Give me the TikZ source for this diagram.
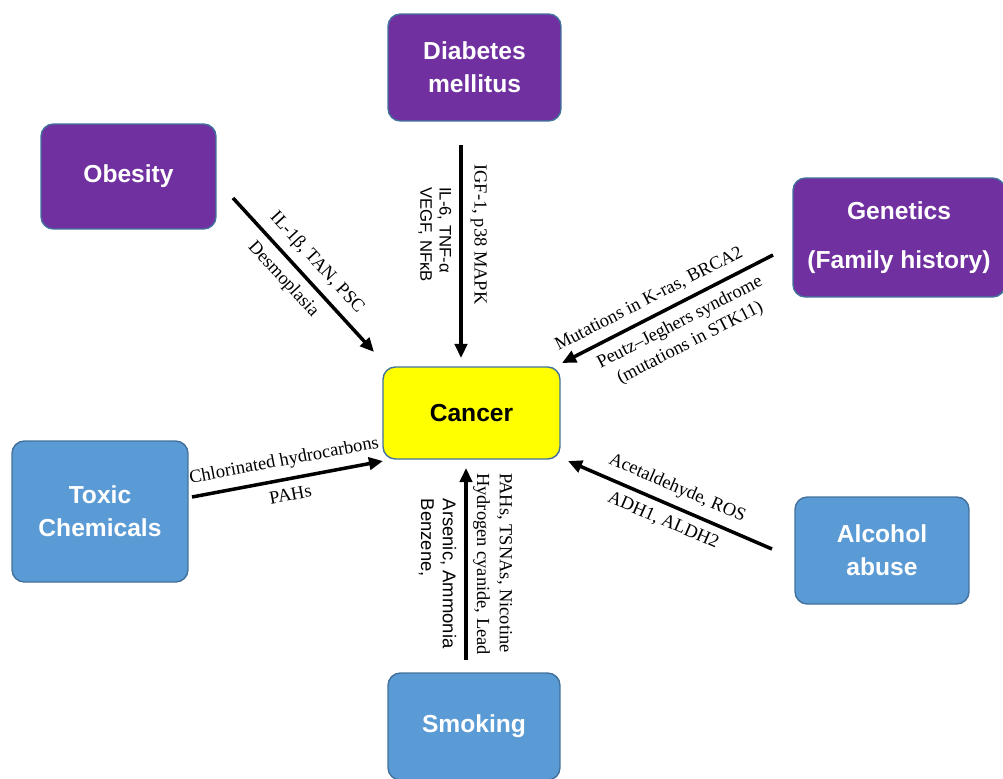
\documentclass[tikz,border=0pt]{standalone}
\usepackage{fontspec}
\setmainfont{Liberation Serif}
\setsansfont{Liberation Sans}
\usetikzlibrary{arrows.meta}
\definecolor{cpurple}{HTML}{7030A0}
\definecolor{cblue}{HTML}{5B9BD5}
\definecolor{cyellow}{HTML}{FFFF00}
\definecolor{cedge}{HTML}{41719C}

\begin{document}
\begin{tikzpicture}[x=0.02cm, y=-0.02cm,
    box/.style={draw=cedge, line width=0.8pt, rounded corners=7pt, text=white,
                font=\fontsize{14}{19}\selectfont\sffamily\bfseries, align=center},
    risk/.style={box, fill=cpurple},
    env/.style={box, fill=cblue},
    arr/.style={-{Triangle[length=8pt,width=7pt]}, line width=2pt},
    lbl/.style={font=\fontsize{10.5}{13}\selectfont, align=center, inner sep=4.5pt},
    slbl/.style={font=\fontsize{9.5}{11}\selectfont\sffamily, align=left, inner sep=4.5pt}
]
  \useasboundingbox (0,0) rectangle (1003,778);
  % boxes
  \node[box, fill=cyellow, text=black, minimum width=3.54cm, minimum height=1.84cm] (cancer) at (471.5,413) {Cancer};
  \node[risk, minimum width=3.46cm, minimum height=2.14cm] (diab) at (474.5,67.5) {Diabetes\\mellitus};
  \node[risk, minimum width=3.5cm, minimum height=2.1cm] (obes) at (128.5,176.5) {Obesity};
  \node[risk, minimum width=4.24cm, minimum height=2.38cm] (gen) at (899,237.5) {Genetics\\[9pt](Family history)};
  \node[env, minimum width=3.52cm, minimum height=2.82cm] (toxic) at (100,511.5) {Toxic\\Chemicals};
  \node[env, minimum width=3.48cm, minimum height=2.14cm] (alc) at (882,550.5) {Alcohol\\abuse};
  \node[env, minimum width=3.44cm, minimum height=2.14cm] (smok) at (474,726.5) {Smoking};
  % arrow ends
  \coordinate (ob1) at (233,198);  \coordinate (ob2) at (374,352);
  \coordinate (di1) at (461,145);  \coordinate (di2) at (461,358);
  \coordinate (ge1) at (773,255);  \coordinate (ge2) at (562,363);
  \coordinate (tx1) at (192,497);  \coordinate (tx2) at (383,461);
  \coordinate (al1) at (772,549);  \coordinate (al2) at (568,461);
  \coordinate (sm1) at (466,660);  \coordinate (sm2) at (466,468);
  % arrows
  \draw[arr] (ob1) -- (ob2)
    node[lbl, midway, sloped, above] {IL-1β, TAN, PSC}
    node[lbl, pos=0.45, sloped, below] {Desmoplasia};
  \draw[arr] (di1) -- (di2)
    node[lbl, pos=0.42, rotate=-90, above] {IGF-1, p38 MAPK}
    node[slbl, pos=0.42, rotate=-90, below] {IL-6, TNF-α\\VEGF, NFκB};
  \draw[arr] (ge1) -- (ge2)
    node[lbl, pos=0.55, sloped, above] {Mutations in K-ras, BRCA2}
    node[lbl, pos=0.48, sloped, below] {Peutz–Jeghers syndrome\\(mutations in STK11)};
  \draw[arr] (tx1) -- (tx2)
    node[lbl, midway, sloped, above] {Chlorinated hydrocarbons}
    node[lbl, midway, sloped, below] {PAHs};
  \draw[arr] (al1) -- (al2)
    node[lbl, midway, sloped, above] {Acetaldehyde, ROS}
    node[lbl, midway, sloped, below] {ADH1, ALDH2};
  \draw[arr] (sm1) -- (sm2)
    node[lbl, midway, rotate=-90, above, align=left, inner sep=3pt] {PAHs, TSNAs, Nicotine\\Hydrogen cyanide, Lead}
    node[slbl, font=\fontsize{10.5}{12.5}\selectfont\sffamily, pos=0.45, rotate=-90, below] {Arsenic, Ammonia\\Benzene,};
\end{tikzpicture}
\end{document}
